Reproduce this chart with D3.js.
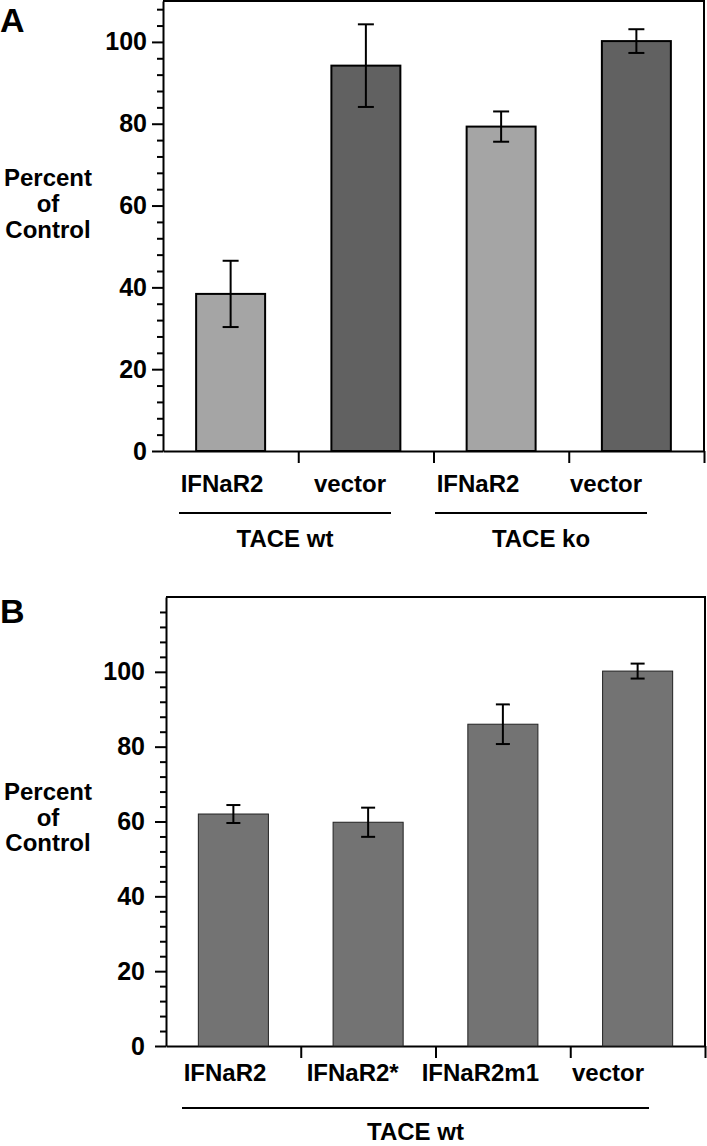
<!DOCTYPE html>
<html>
<head>
<meta charset="utf-8">
<script src="https://cdn.jsdelivr.net/npm/d3@7"></script>
<style>
  body { margin: 0; background: #fff; }
  text { font-family: "Liberation Sans", Arial, sans-serif; font-weight: bold; fill: #000; }
</style>
</head>
<body>
<div id="chart-area"></div>
<script>
// ---- data, panel A ----
const categoriesA = ["IFNaR2", "vector", "IFNaR2", "vector"]
const valuesA = [38.4, 94.2, 79.3, 100.2]
const errorsA = [8.1, 10.1, 3.7, 2.9]
const groupsA = ["TACE wt", "TACE ko"]
const groupSpanA = [[0, 1], [2, 3]]
const fillsA = ["#a5a5a5", "#616161", "#a5a5a5", "#616161"]

// ---- data, panel B ----
const categoriesB = ["IFNaR2", "IFNaR2*", "IFNaR2m1", "vector"]
const valuesB = [62.0, 59.8, 86.0, 100.2]
const errorsB = [2.4, 3.9, 5.3, 2.0]
const groupsB = ["TACE wt"]
const groupSpanB = [[0, 3]]
const fillsB = ["#737373", "#737373", "#737373", "#737373"]

// ticks
const majorTicksA = [0, 20, 40, 60, 80, 100]
const majorTicksB = [0, 20, 40, 60, 80, 100]

const svg = d3.select("#chart-area").append("svg")
  .attr("width", 707)
  .attr("height", 1146)

function panel(opt) {
  const n = opt.categories.length
  const g = svg.append("g")

  // scales
  const x = d3.scaleLinear().domain([0, n]).range([opt.left, opt.right])
  const y = d3.scaleLinear().domain([0, opt.yMax]).range([opt.bottom, opt.top])
  const xLab = d3.scalePoint().domain(d3.range(n)).range(opt.labelRange)
  const step = x(1) - x(0)
  const bw = step * opt.barFrac

  // frame (top + right)
  g.append("path")
    .attr("d", `M${opt.left},${y(opt.yMax)}H${opt.right}V${opt.bottom}`)
    .attr("fill", "none")
    .attr("stroke", "#000")
    .attr("stroke-width", 2)

  // minor y ticks
  const minor = d3.range(0, opt.yMax + 0.1, 4).filter(v => v % 20 !== 0)
  g.append("g")
    .attr("transform", `translate(${opt.left},0)`)
    .call(d3.axisLeft(y).tickValues(minor).tickSize(6).tickFormat("").tickSizeOuter(0))
    .call(a => a.select(".domain").remove())
    .call(a => a.selectAll("line").attr("stroke-width", 2))

  // major y ticks + labels
  g.append("g")
    .attr("transform", `translate(${opt.left},0)`)
    .call(d3.axisLeft(y).tickValues(opt.majorTicks).tickSize(11).tickPadding(opt.tickPad).tickSizeOuter(0))
    .call(a => a.select(".domain").attr("stroke-width", 2))
    .call(a => a.selectAll("line").attr("stroke-width", 2))
    .call(a => a.selectAll("text").attr("font-size", 25).attr("fill", "#000")
      .style("font-family", '"Liberation Sans", Arial, sans-serif').style("font-weight", "bold"))

  // x axis with boundary ticks
  g.append("g")
    .attr("transform", `translate(0,${opt.bottom})`)
    .call(d3.axisBottom(x).tickValues(d3.range(1, n + 1)).tickSize(12).tickFormat("").tickSizeOuter(0))
    .call(a => a.select(".domain").attr("stroke-width", 2))
    .call(a => a.selectAll("line").attr("stroke-width", 2))

  // bars
  g.selectAll("rect.bar")
    .data(opt.values)
    .join("rect")
    .attr("class", "bar")
    .attr("x", (d, i) => x(i + 0.5) - bw / 2)
    .attr("width", bw)
    .attr("y", d => y(d))
    .attr("height", d => y(0) - y(d))
    .attr("fill", (d, i) => opt.fills[i])
    .attr("stroke", opt.barStroke)
    .attr("stroke-width", opt.barStrokeWidth)

  // error bars
  const cap = opt.cap / 2
  const err = g.selectAll("g.err")
    .data(opt.values.map((v, i) => ({ v, e: opt.errors[i], i })))
    .join("g")
    .attr("class", "err")
    .attr("stroke", "#000")
    .attr("stroke-width", 2)
  err.append("line")
    .attr("x1", d => x(d.i + 0.5)).attr("x2", d => x(d.i + 0.5))
    .attr("y1", d => y(d.v - d.e)).attr("y2", d => y(d.v + d.e))
  err.append("line")
    .attr("x1", d => x(d.i + 0.5) - cap).attr("x2", d => x(d.i + 0.5) + cap)
    .attr("y1", d => y(d.v + d.e)).attr("y2", d => y(d.v + d.e))
  err.append("line")
    .attr("x1", d => x(d.i + 0.5) - cap).attr("x2", d => x(d.i + 0.5) + cap)
    .attr("y1", d => y(d.v - d.e)).attr("y2", d => y(d.v - d.e))

  // category labels
  g.selectAll("text.cat")
    .data(opt.categories)
    .join("text")
    .attr("class", "cat")
    .attr("x", (d, i) => xLab(i))
    .attr("y", opt.bottom + opt.catDy)
    .attr("text-anchor", "middle")
    .attr("font-size", 24)
    .text(d => d)

  // group lines + labels
  opt.groups.forEach((name, k) => {
    const [a, b] = opt.groupSpan[k]
    const x1 = xLab(a) - 43
    const x2 = xLab(b) + 41
    g.append("line")
      .attr("x1", x1).attr("x2", x2)
      .attr("y1", opt.bottom + opt.lineDy).attr("y2", opt.bottom + opt.lineDy)
      .attr("stroke", "#000").attr("stroke-width", 2)
    g.append("text")
      .attr("x", (x1 + x2) / 2)
      .attr("y", opt.bottom + opt.groupDy)
      .attr("text-anchor", "middle")
      .attr("font-size", 24)
      .text(name)
  })

  // y title, one text per line
  g.selectAll("text.ytitle")
    .data(opt.yTitle)
    .join("text")
    .attr("class", "ytitle")
    .attr("x", 48)
    .attr("y", (d, k) => opt.yTitleY[k])
    .attr("text-anchor", "middle")
    .attr("font-size", 24)
    .text(d => d)

  // panel letter
  g.append("text")
    .attr("x", 0)
    .attr("y", opt.letterY)
    .attr("font-size", 34)
    .text(opt.letter)
}

panel({
  categories: categoriesA, values: valuesA, errors: errorsA, fills: fillsA,
  groups: groupsA, groupSpan: groupSpanA, majorTicks: majorTicksA,
  left: 163, right: 704, top: 1, bottom: 451, yMax: 110,
  labelRange: [222, 606], barFrac: 0.51, barStroke: "#000", barStrokeWidth: 2,
  cap: 16, tickPad: 5, catDy: 41, lineDy: 62, groupDy: 96,
  yTitle: ["Percent", "of", "Control"], yTitleY: [186, 212, 238],
  letter: "A", letterY: 32
})

panel({
  categories: categoriesB, values: valuesB, errors: errorsB, fills: fillsB,
  groups: groupsB, groupSpan: groupSpanB, majorTicks: majorTicksB,
  left: 166, right: 705, top: 597, bottom: 1046, yMax: 120,
  labelRange: [225, 608], barFrac: 0.52, barStroke: "#222", barStrokeWidth: 1,
  cap: 14, tickPad: 10, catDy: 35, lineDy: 62, groupDy: 94,
  yTitle: ["Percent", "of", "Control"], yTitleY: [800, 826, 851],
  letter: "B", letterY: 623
})
</script>
</body>
</html>
